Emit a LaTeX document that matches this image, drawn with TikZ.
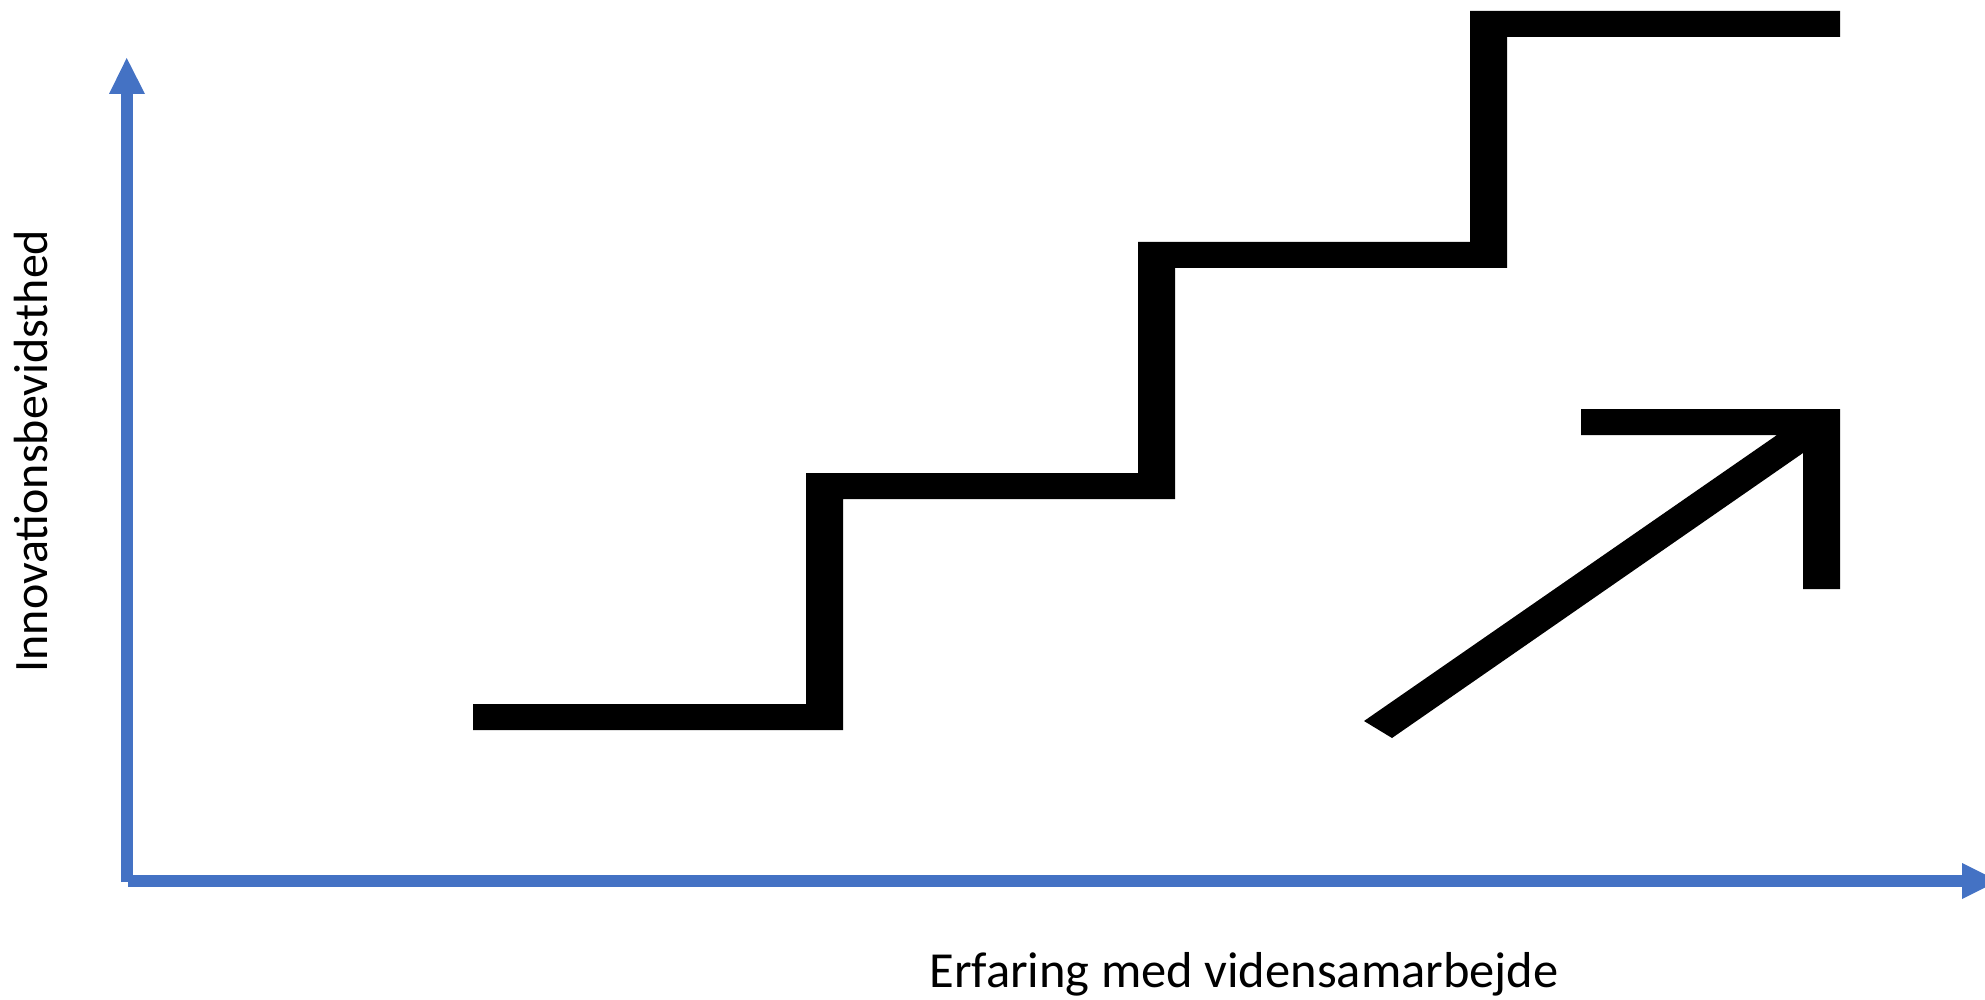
\documentclass[tikz,border=0pt]{standalone}
\usepackage{fontspec}
\setmainfont{Carlito}
\definecolor{axisblue}{HTML}{4472C4}
\begin{document}
\begin{tikzpicture}[x=1pt,y=-1pt,
  axisline/.style={draw=axisblue, line width=12pt},
  axishead/.style={fill=axisblue},
  blackshape/.style={fill=black},
  lbl/.style={font=\fontsize{48}{58}\selectfont, inner sep=0pt},
  xlbl/.style={font=\fontsize{50.5}{60}\selectfont, inner sep=0pt}]
\useasboundingbox (0,0) rectangle (1985,1000);
% axes
\coordinate (yb) at (126.7,882);
\coordinate (yt) at (126.7,94);
\coordinate (xl) at (128,881);
\coordinate (xr) at (1962,881);
\draw[axisline] (yb) -- (yt);
\fill[axishead] (109,94) -- (126.7,58) -- (145,94) -- cycle;
\draw[axisline] (xl) -- (xr);
\fill[axishead] (1962,863) -- (1998,881) -- (1962,899) -- cycle;
% staircase
\fill[blackshape] (473,704) -- (806,704) -- (806,473) -- (1138,473) -- (1138,242)
  -- (1470,242) -- (1470,11) -- (1840,11) -- (1840,37) -- (1507,37) -- (1507,268)
  -- (1175,268) -- (1175,499) -- (843,499) -- (843,730) -- (473,730) -- cycle;
% arrow
\fill[blackshape] (1364,721) -- (1777,435) -- (1581,435) -- (1581,409) -- (1840,409)
  -- (1840,589) -- (1803,589) -- (1803,453) -- (1392,738) -- cycle;
% labels
\node[lbl, rotate=90, anchor=base] (ylab) at (47,451) {Innovationsbevidsthed};
\node[xlbl, anchor=base] (xlab) at (1244,987) {Erfaring med vidensamarbejde};
\end{tikzpicture}
\end{document}
